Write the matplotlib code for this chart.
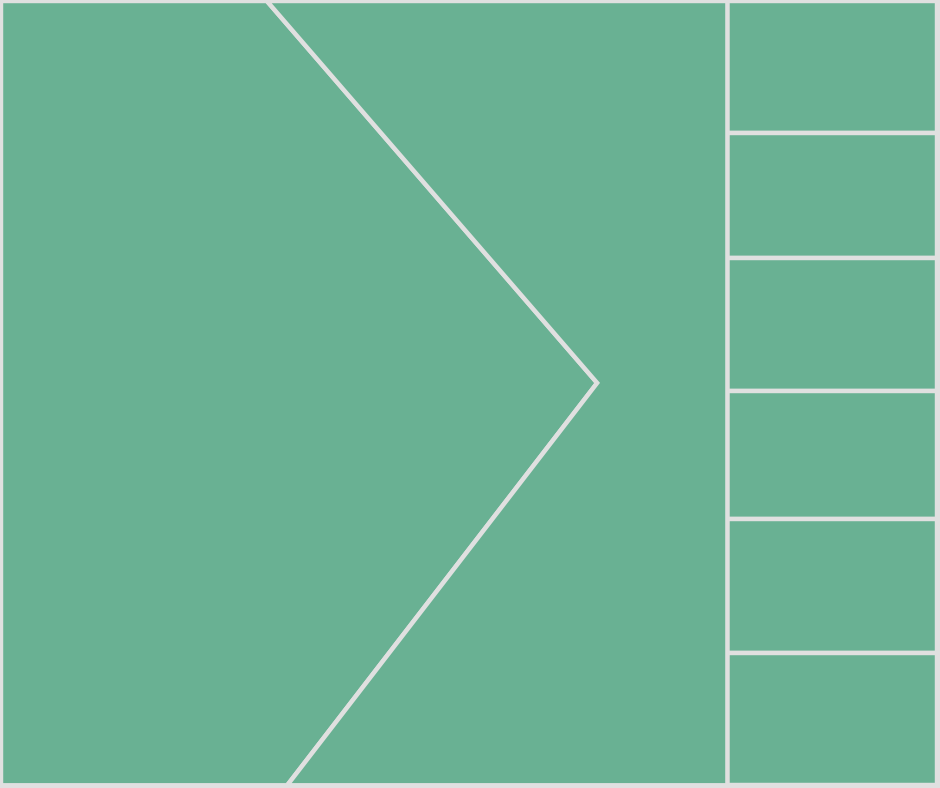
import matplotlib
matplotlib.use('Agg')
import matplotlib.pyplot as plt
from matplotlib.patches import Polygon

# Cell sizes (share of total area, %)
left_names = ['A', 'B']
left_values = [46.6, 31.0]
right_names = ['C', 'D', 'E', 'F', 'G', 'H']
right_values = [3.76, 3.60, 3.79, 3.66, 3.83, 3.78]

cell_color = '#69b193'
bg_color = '#e0e0e0'
line_w = 3.2

fig = plt.figure(figsize=(9.4, 7.88), dpi=100)
fig.patch.set_facecolor(bg_color)
ax = fig.add_axes([0, 0, 1, 1])
ax.set_xlim(0, 940)
ax.set_ylim(788, 0)
ax.axis('off')

# frame in pixel coords
x0, x1, y0, y1 = 1.0, 937.3, 1.0, 785.3
W, H = x1 - x0, y1 - y0
total = sum(left_values) + sum(right_values)

# right column: stacked cells
split_x = x0 + W * sum(left_values) / total
col_sum = sum(right_values)
y = y0
for v in right_values:
    h = H * v / col_sum
    ax.add_patch(Polygon([(split_x, y), (x1, y), (x1, y + h), (split_x, y + h)],
                         closed=True, facecolor=cell_color, edgecolor=bg_color,
                         linewidth=line_w, joinstyle='miter'))
    y += h

# left block: chevron split, apex x solved from area of first cell
lw_ = split_x - x0
top_x = 0.366 * lw_
bot_x = 0.394 * lw_
apex_y = 0.487 * H
area_a = lw_ * H * left_values[0] / sum(left_values)
apex_x = (2 * area_a - top_x * apex_y - bot_x * (H - apex_y)) / H

poly_a = [(x0, y0), (x0 + top_x, y0), (x0 + apex_x, y0 + apex_y),
          (x0 + bot_x, y1), (x0, y1)]
poly_b = [(x0 + top_x, y0), (split_x, y0), (split_x, y1),
          (x0 + bot_x, y1), (x0 + apex_x, y0 + apex_y)]
for pts in (poly_a, poly_b):
    ax.add_patch(Polygon(pts, closed=True, facecolor=cell_color, edgecolor=bg_color,
                         linewidth=line_w, joinstyle='miter'))

fig.savefig('out.png', dpi=100, facecolor=bg_color)
